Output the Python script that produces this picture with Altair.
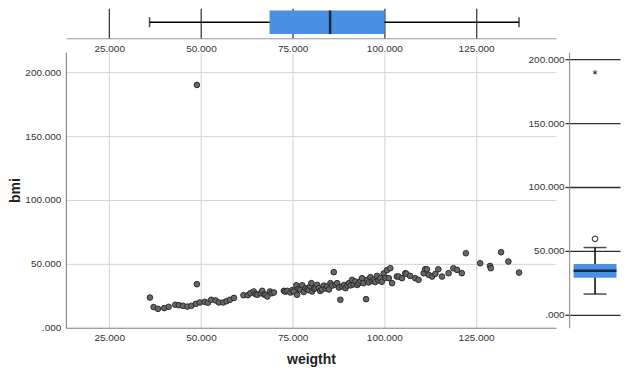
import altair as alt
import pandas as pd

# ---- data ----
weight = [36.1, 37.1, 38.3, 40.0, 41.2, 43.0, 44.0, 45.1, 46.3, 47.4, 48.6, 48.9, 48.9, 49.7,
          51.0, 51.9, 52.8, 54.0, 54.9, 56.1, 57.0, 57.9, 59.0,
          61.6, 62.8, 63.5, 64.4, 64.9, 65.4, 66.3, 66.7, 67.2, 67.6, 68.1, 68.8, 69.3, 69.9,
          72.6, 73.0, 73.5, 74.4, 74.9, 75.3, 76.0, 76.2, 76.6, 77.1, 77.6, 78.0, 78.5, 79.0,
          79.4, 79.8, 80.1, 80.3, 80.8, 81.2, 81.7, 82.1, 82.5, 83.0, 83.5, 84.0, 84.4, 84.9,
          85.3, 85.8,
          86.2, 86.7, 87.1, 87.6, 88.0, 88.5, 89.0, 89.4, 89.9, 90.3, 90.8, 91.2, 91.6, 92.1,
          92.6, 93.0, 93.5, 93.9, 94.3, 95.0, 95.3, 95.7, 96.2, 96.6, 97.1, 97.5, 98.0, 98.4,
          98.9, 99.3, 99.8, 100.3, 100.7, 101.2, 101.6, 102.1,
          103.4, 103.9, 104.8, 105.7, 106.0, 107.0, 108.4, 109.3, 110.7, 111.1, 111.6, 112.1,
          113.0, 113.9, 114.7, 115.7, 117.5, 118.8, 119.8, 121.1, 122.2,
          126.1, 128.8, 129.0, 131.8, 133.8, 136.7]
bmi = [23.7, 16.2, 14.8, 15.4, 16.4, 18.0, 17.7, 17.2, 16.6, 17.2, 18.7, 34.1, 190.0, 19.8,
       20.3, 19.6, 21.9, 21.4, 19.8, 19.8, 20.8, 21.9, 23.4,
       25.5, 25.5, 27.1, 28.4, 26.3, 25.8, 27.1, 28.9, 26.0, 25.8, 24.5, 28.4, 27.0, 27.6,
       28.9, 28.2, 28.9, 27.6, 29.5, 28.4, 33.3, 25.8, 30.5, 29.9, 33.3, 28.0, 31.0, 30.2,
       29.4, 32.5, 34.9, 28.4, 30.5, 31.0, 33.6, 31.0, 28.8, 29.9, 33.0, 30.8, 32.3, 30.0,
       34.9, 33.0,
       43.5, 33.6, 34.9, 31.5, 21.9, 32.3, 33.5, 31.0, 33.0, 34.9, 33.2, 37.5, 34.0, 36.2,
       33.5, 34.9, 36.5, 38.8, 34.9, 22.4, 37.5, 35.5, 39.6, 36.5, 37.5, 35.8, 40.6, 37.0,
       38.8, 36.0, 42.5, 39.0, 45.1, 38.8, 46.6, 34.9,
       40.1, 40.1, 38.8, 42.7, 42.2, 40.6, 38.8, 37.5, 42.7, 45.8, 45.8, 41.4,
       40.1, 42.2, 45.8, 40.1, 42.7, 46.6, 45.3, 42.7, 58.3,
       50.5, 48.4, 46.6, 59.1, 51.8, 43.2]

# box plot statistics (low whisker, Q1, median, Q3, high whisker)
weight_box = {"low": 36.0, "q1": 68.7, "median": 85.2, "q3": 100.0, "high": 136.7}
bmi_box = {"low": 16.2, "q1": 28.9, "median": 34.4, "q3": 39.8, "high": 52.6}
bmi_outliers = [59.4]
bmi_extremes = [190.0]

x_ticks = [25, 50, 75, 100, 125]
y_ticks = [0, 50, 100, 150, 200]

# ---- styling ----
FONT = "Liberation Sans"
BLUE = "#4a90e2"
LABEL_EXPR = "datum.value == 0 ? '.000' : format(datum.value, '.3f')"
PW = 491
PH = 276

df = pd.DataFrame({"weigtht": weight, "bmi": bmi})
wdf = pd.DataFrame([weight_box])
bdf = pd.DataFrame([bmi_box])
odf = pd.DataFrame({"v": bmi_outliers})
edf = pd.DataFrame({"v": bmi_extremes})

x_scale = alt.Scale(domain=[13.2, 146.8], nice=False, zero=False)

# ---- top marginal box plot ----
top_axis = alt.Axis(values=x_ticks, labelExpr=LABEL_EXPR, grid=True, gridColor="#2e2e2e",
                    gridWidth=1.2, ticks=False, domainColor="#999999", domainWidth=1.2,
                    labelPadding=5, title=None)


def tx(field):
    return alt.X(f"{field}:Q", scale=x_scale, axis=top_axis, title=None)


top_base = alt.Chart(wdf)
top = alt.layer(
    top_base.mark_rule(color="black", strokeWidth=1.5).encode(x=tx("low"), x2="high:Q", y=alt.value(14)),
    top_base.mark_rule(color=BLUE, strokeWidth=23.6, strokeCap="butt").encode(x=tx("q1"), x2="q3:Q", y=alt.value(14)),
    top_base.mark_tick(color="black", size=23.6, thickness=2.5).encode(x=tx("median"), y=alt.value(14)),
    top_base.mark_tick(color="black", size=10, thickness=1.5).encode(x=tx("low"), y=alt.value(14)),
    top_base.mark_tick(color="black", size=10, thickness=1.5).encode(x=tx("high"), y=alt.value(14)),
).properties(width=PW, height=30)

# ---- main scatter ----
main = alt.Chart(df).mark_circle(size=32, color="#666666", stroke="#262626", strokeWidth=0.9,
                                 opacity=1).encode(
    x=alt.X("weigtht:Q", scale=x_scale, title="weigtht",
            axis=alt.Axis(values=x_ticks, labelExpr=LABEL_EXPR, grid=True, gridColor="#d4d4d4",
                          ticks=False, domainColor="#8c8c8c", domainWidth=1.2, labelPadding=5,
                          titlePadding=10)),
    y=alt.Y("bmi:Q", scale=alt.Scale(domain=[0, 215.6], nice=False), title="bmi",
            axis=alt.Axis(values=y_ticks, labelExpr=LABEL_EXPR, grid=True, gridColor="#d4d4d4",
                          ticks=False, domainColor="#8c8c8c", domainWidth=1.2, labelPadding=5,
                          titlePadding=2)),
).properties(width=PW, height=PH)

# ---- right marginal box plot ----
r_scale = alt.Scale(domain=[-10.2, 205.5], nice=False, zero=False)
r_axis = alt.Axis(values=y_ticks, labelExpr=LABEL_EXPR, grid=True, gridColor="#2e2e2e",
                  gridWidth=1.3, ticks=True, tickSize=4, tickColor="#2e2e2e", tickWidth=1.3,
                  domainColor="#999999", domainWidth=1.2, labelPadding=1, title=None)


def ry(field):
    return alt.Y(f"{field}:Q", scale=r_scale, axis=r_axis, title=None)


rb = alt.Chart(bdf)
right = alt.layer(
    rb.mark_rule(color="black", strokeWidth=1.5).encode(y=ry("low"), y2="high:Q", x=alt.value(26)),
    rb.mark_rule(color=BLUE, strokeWidth=43, strokeCap="butt").encode(y=ry("q1"), y2="q3:Q", x=alt.value(26)),
    rb.mark_tick(color="black", size=43, thickness=2.5).encode(y=ry("median"), x=alt.value(26)),
    rb.mark_tick(color="black", size=23, thickness=1.5).encode(y=ry("low"), x=alt.value(26)),
    rb.mark_tick(color="black", size=23, thickness=1.5).encode(y=ry("high"), x=alt.value(26)),
    alt.Chart(odf).mark_point(shape="circle", filled=False, color="black", size=30,
                              strokeWidth=1.2).encode(y=ry("v"), x=alt.value(26)),
    alt.Chart(edf).mark_text(text="*", fontSize=13, color="black", dy=3,
                             baseline="middle").encode(y=ry("v"), x=alt.value(26)),
).properties(width=51, height=PH)

row = alt.hconcat(main, right, spacing=13, bounds="flush")
chart = alt.vconcat(top, row, spacing=14, bounds="flush").properties(
    padding={"left": 0, "top": 0, "right": 2, "bottom": 0}
).configure_view(stroke=None).configure_axis(
    labelFont=FONT, titleFont=FONT, labelFontSize=10, titleFontSize=14,
    titleFontWeight="bold", labelColor="#333333", titleColor="#222222"
)

chart.save("out.html", embed_options={"renderer": "svg", "actions": False})
